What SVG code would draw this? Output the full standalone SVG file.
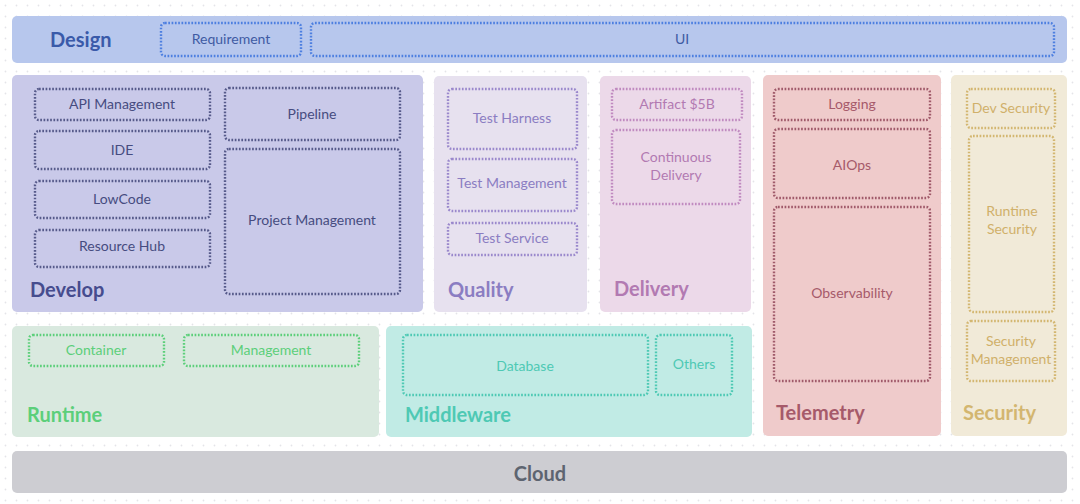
<svg xmlns="http://www.w3.org/2000/svg" width="1080" height="504" viewBox="0 0 1080 504">
<defs>
<pattern id="dots" width="11" height="11" patternUnits="userSpaceOnUse">
<circle cx="5.5" cy="5.5" r="0.9" fill="#e4e4e8"/>
</pattern>
</defs>
<style>
.panel{stroke:none}
.sub{fill:none;stroke-width:2.4;stroke-dasharray:1.7 1.6}
.t{font-family:Lato,"Open Sans",sans-serif;font-size:14px;text-anchor:middle;dominant-baseline:central}
.h{font-family:Lato,"Open Sans",sans-serif;font-size:20px;font-weight:bold;dominant-baseline:central}
</style>
<rect width="1080" height="504" fill="#ffffff"/>
<rect width="1080" height="504" fill="url(#dots)"/>

<g id="design">
<rect class="panel" x="12" y="16" width="1055" height="47" rx="5" fill="#b7c7ed"/>
<text class="h" x="50" y="39" fill="#3a5aa9">Design</text>
<g id="requirement"><rect class="sub" x="161" y="23" width="140" height="33" rx="4" stroke="#4d7fe0"/><text class="t" x="231" y="38" fill="#3f5ba3">Requirement</text></g>
<g id="ui"><rect class="sub" x="311" y="23" width="743" height="33" rx="4" stroke="#4d7fe0"/><text class="t" x="682" y="38" fill="#3f5ba3">UI</text></g>
</g>

<g id="develop">
<rect class="panel" x="12" y="75" width="411" height="237" rx="5" fill="#c9c9e9"/>
<text class="h" x="30" y="289" fill="#464c8e">Develop</text>
<g id="api"><rect class="sub" x="35" y="89" width="175" height="31" rx="4" stroke="#565a8a"/><text class="t" x="122" y="103" fill="#464c80">API Management</text></g>
<g id="ide"><rect class="sub" x="35" y="131" width="175" height="38" rx="4" stroke="#565a8a"/><text class="t" x="122" y="149" fill="#464c80">IDE</text></g>
<g id="lowcode"><rect class="sub" x="35" y="181" width="175" height="37" rx="4" stroke="#565a8a"/><text class="t" x="122" y="198" fill="#464c80">LowCode</text></g>
<g id="resourcehub"><rect class="sub" x="35" y="230" width="175" height="37" rx="4" stroke="#565a8a"/><text class="t" x="122" y="245" fill="#464c80">Resource Hub</text></g>
<g id="pipeline"><rect class="sub" x="225" y="88" width="175" height="52" rx="4" stroke="#565a8a"/><text class="t" x="312" y="113" fill="#464c80">Pipeline</text></g>
<g id="projectmgmt"><rect class="sub" x="225" y="149" width="175" height="145" rx="4" stroke="#565a8a"/><text class="t" x="312" y="219" fill="#464c80">Project Management</text></g>
</g>

<g id="quality">
<rect class="panel" x="434" y="76" width="153" height="236" rx="5" fill="#e7e1ef"/>
<text class="h" x="448" y="289" fill="#8b7dc2">Quality</text>
<g id="testharness"><rect class="sub" x="448" y="89" width="129" height="60" rx="4" stroke="#9a88cc"/><text class="t" x="512" y="117" fill="#8b7dc2">Test Harness</text></g>
<g id="testmgmt"><rect class="sub" x="448" y="159" width="129" height="52" rx="4" stroke="#9a88cc"/><text class="t" x="512" y="182" fill="#8b7dc2">Test Management</text></g>
<g id="testservice"><rect class="sub" x="448" y="223" width="129" height="32" rx="4" stroke="#9a88cc"/><text class="t" x="512" y="237" fill="#8b7dc2">Test Service</text></g>
</g>

<g id="delivery">
<rect class="panel" x="600" y="76" width="151" height="236" rx="5" fill="#ecd9e9"/>
<text class="h" x="614" y="288" fill="#b27ab2">Delivery</text>
<g id="artifact"><rect class="sub" x="612" y="89" width="130" height="31" rx="4" stroke="#c08ac0"/><text class="t" x="677" y="103" fill="#b27ab2">Artifact $5B</text></g>
<g id="cd"><rect class="sub" x="612" y="130" width="128" height="74" rx="4" stroke="#c08ac0"/><text class="t" x="676" y="156" fill="#b27ab2">Continuous</text><text class="t" x="676" y="174" fill="#b27ab2">Delivery</text></g>
</g>

<g id="telemetry">
<rect class="panel" x="763" y="75" width="178" height="361" rx="5" fill="#efcbcb"/>
<text class="h" x="776" y="412" fill="#a65a6a">Telemetry</text>
<g id="logging"><rect class="sub" x="774" y="89" width="156" height="31" rx="4" stroke="#a05a6a"/><text class="t" x="852" y="103" fill="#a65a6a">Logging</text></g>
<g id="aiops"><rect class="sub" x="774" y="129" width="156" height="69" rx="4" stroke="#a05a6a"/><text class="t" x="852" y="164" fill="#a65a6a">AIOps</text></g>
<g id="observability"><rect class="sub" x="774" y="207" width="156" height="174" rx="4" stroke="#a05a6a"/><text class="t" x="852" y="292" fill="#a65a6a">Observability</text></g>
</g>

<g id="security">
<rect class="panel" x="951" y="75" width="116" height="361" rx="5" fill="#f1ead8"/>
<text class="h" x="963" y="412" fill="#d3b670">Security</text>
<g id="devsec"><rect class="sub" x="967" y="89" width="88" height="39" rx="4" stroke="#d3b670"/><text class="t" x="1011" y="107" fill="#d0b06a">Dev Security</text></g>
<g id="runtimesec"><rect class="sub" x="969" y="136" width="85" height="176" rx="4" stroke="#d3b670"/><text class="t" x="1012" y="210" fill="#d0b06a">Runtime</text><text class="t" x="1012" y="228" fill="#d0b06a">Security</text></g>
<g id="secmgmt"><rect class="sub" x="967" y="321" width="88" height="60" rx="4" stroke="#d3b670"/><text class="t" x="1011" y="340" fill="#d0b06a">Security</text><text class="t" x="1011" y="358" fill="#d0b06a">Management</text></g>
</g>

<g id="runtime">
<rect class="panel" x="12" y="326" width="367" height="111" rx="5" fill="#d9e9df"/>
<text class="h" x="27" y="414" fill="#5ccf7a">Runtime</text>
<g id="container"><rect class="sub" x="29" y="335" width="135" height="31" rx="4" stroke="#5ccf7a"/><text class="t" x="96" y="349" fill="#5ccf7a">Container</text></g>
<g id="management"><rect class="sub" x="184" y="335" width="175" height="31" rx="4" stroke="#5ccf7a"/><text class="t" x="271" y="349" fill="#5ccf7a">Management</text></g>
</g>

<g id="middleware">
<rect class="panel" x="386" y="326" width="366" height="111" rx="5" fill="#c1ebe5"/>
<text class="h" x="405" y="414" fill="#4ec9b4">Middleware</text>
<g id="database"><rect class="sub" x="403" y="335" width="245" height="60" rx="4" stroke="#4ec9b4"/><text class="t" x="525" y="365" fill="#4ec9b4">Database</text></g>
<g id="others"><rect class="sub" x="656" y="335" width="76" height="60" rx="4" stroke="#4ec9b4"/><text class="t" x="694" y="363" fill="#4ec9b4">Others</text></g>
</g>

<g id="cloud">
<rect class="panel" x="12" y="451" width="1055" height="42" rx="5" fill="#cdcdd2"/>
<text class="h" x="540" y="473" fill="#5d6470" text-anchor="middle">Cloud</text>
</g>

<g id="connectors"></g>
</svg>
